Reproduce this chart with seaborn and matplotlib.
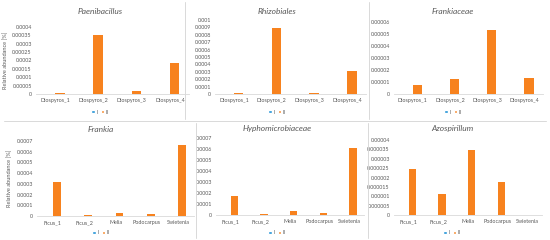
import numpy as np
import pandas as pd
import matplotlib
matplotlib.use("Agg")
import matplotlib.pyplot as plt
from matplotlib.ticker import MultipleLocator, FuncFormatter
from matplotlib.patches import Patch
from matplotlib.lines import Line2D
import seaborn as sns

# categories
diospyros = ["Diospyros_1", "Diospyros_2", "Diospyros_3", "Diospyros_4"]
hosts = ["Ficus_1", "Ficus_2", "Melia", "Podocarpus", "Swietenia"]
series_names = ["I", "II"]

# series I is zero everywhere (no blue bars visible), series II read off the picture
paeni_I = [0, 0, 0, 0]
paeni_II = [0.000008, 0.00035, 0.000015, 0.000185]
rhizo_I = [0, 0, 0, 0]
rhizo_II = [0.000008, 0.00089, 0.000015, 0.00031]
frankiaceae_I = [0, 0, 0, 0]
frankiaceae_II = [0.0000075, 0.0000125, 0.000053, 0.000013]
frankia_I = [0, 0, 0, 0, 0]
frankia_II = [0.00032, 0.000012, 0.000032, 0.000018, 0.00066]
hypho_I = [0, 0, 0, 0, 0]
hypho_II = [0.00017, 0.000012, 0.000038, 0.000018, 0.00061]
azo_I = [0, 0, 0, 0, 0]
azo_II = [0.0000245, 0.000011, 0.0000345, 0.0000175, 0]

BLUE = "#1E92D6"
ORANGE = "#F7821E"
TXT = "#595959"

sns.set_style("white")
plt.rcParams['font.family'] = ['Lato', 'DejaVu Sans']

W, H = 550, 240
fig = plt.figure(figsize=(5.5, 2.4), dpi=100)


def px_axes(x0, x1, ytop, ybot):
    return fig.add_axes([x0 / W, 1 - ybot / H, (x1 - x0) / W, (ybot - ytop) / H])


def fmt(v, pos):
    s = f"{v:.10f}".rstrip('0').rstrip('.')
    return "0" if s in ("", "-0") else s


def panel(title, cats, s1, s2, ymax, step, box, title_x, title_y, legend_y, ylabel=False):
    df = pd.DataFrame({
        "cat": cats * 2,
        "series": [series_names[0]] * len(cats) + [series_names[1]] * len(cats),
        "val": list(s1) + list(s2),
    })
    ax = px_axes(*box)
    sns.barplot(data=df, x="cat", y="val", hue="series", palette=[BLUE, ORANGE],
                width=0.5, saturation=1, legend=False, ax=ax, linewidth=0)
    ax.set_xlim(-0.5, len(cats) - 0.5)
    ax.set_ylim(0, ymax)
    ax.yaxis.set_major_locator(MultipleLocator(step))
    ax.yaxis.set_major_formatter(FuncFormatter(fmt))
    ax.tick_params(axis="both", length=0, labelsize=3.9, colors=TXT, pad=3)
    ax.set_xlabel("")
    ax.set_ylabel("Relative abundance [%]" if ylabel else "", fontsize=4.1, color=TXT, labelpad=3)
    for s in ["top", "right", "left"]:
        ax.spines[s].set_visible(False)
    ax.spines["bottom"].set_color("#D9D9D9")
    ax.spines["bottom"].set_linewidth(0.6)
    ax.patch.set_alpha(0)
    fig.text(title_x / W, 1 - title_y / H, title, ha="center", va="center",
             fontsize=6.0, style="italic", color=TXT)
    handles = [Patch(facecolor=BLUE, label="I"), Patch(facecolor=ORANGE, label="II")]
    fig.legend(handles=handles, loc="center", bbox_to_anchor=(title_x / W, 1 - legend_y / H),
               ncol=2, frameon=False, fontsize=3.8, handlelength=0.6, handleheight=0.6,
               handletextpad=0.3, columnspacing=0.6, labelcolor=TXT)
    return ax


panel("Paenibacillus", diospyros, paeni_I, paeni_II, 0.0004, 0.00005,
      (36, 189, 27, 94), 100, 11, 112, ylabel=True)
panel("Rhizobiales", diospyros, rhizo_I, rhizo_II, 0.001, 0.0001,
      (215, 366, 20, 94), 277, 11, 112)
panel("Frankiaceae", diospyros, frankiaceae_I, frankiaceae_II, 0.00006, 0.00001,
      (394, 543, 22, 94), 453, 11, 112)
panel("Frankia", hosts, frankia_I, frankia_II, 0.0007, 0.0001,
      (37, 194, 141, 216), 101, 129, 233, ylabel=True)
panel("Hyphomicrobiaceae", hosts, hypho_I, hypho_II, 0.0007, 0.0001,
      (216, 364, 138, 215), 277, 129, 233)
panel("Azospirillum", hosts, azo_I, azo_II, 0.00004, 0.000005,
      (394, 542, 140, 215), 452, 129, 233)

# light separators between the individual chart boxes
sep = dict(color="#D9D9D9", linewidth=0.7, transform=fig.transFigure)
fig.add_artist(Line2D([4 / W, 546 / W], [1 - 121 / H, 1 - 121 / H], **sep))
fig.add_artist(Line2D([185 / W, 185 / W], [1 - 2 / H, 1 - 119 / H], **sep))
fig.add_artist(Line2D([369 / W, 369 / W], [1 - 2 / H, 1 - 119 / H], **sep))
fig.add_artist(Line2D([196 / W, 196 / W], [1 - 123 / H, 1 - 238 / H], **sep))
fig.add_artist(Line2D([368 / W, 368 / W], [1 - 123 / H, 1 - 238 / H], **sep))

fig.savefig("out.png", dpi=100, facecolor="white")
